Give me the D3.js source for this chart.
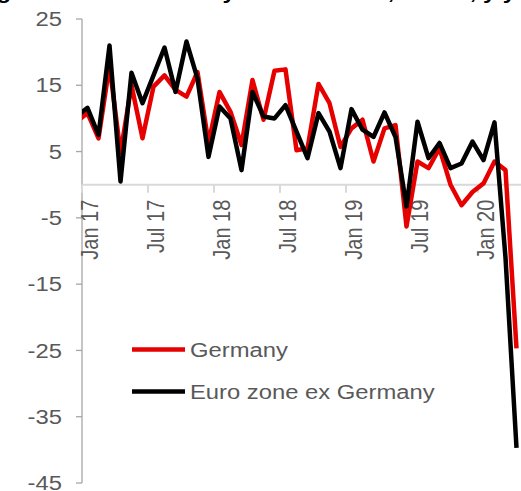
<!DOCTYPE html>
<html lang="en">
<head>
<meta charset="utf-8">
<title>Germany vs euro zone</title>
<script src="https://d3js.org/d3.v7.min.js"></script>
<style>
  body { margin: 0; background: #fff; }
  text { font-family: "Liberation Sans", Arial, sans-serif; }
</style>
</head>
<body>
<div id="chart"></div>
<script>
// months Dec 16 .. Apr 20 (first one sits left of the plot and gets clipped)
var months = ["Dec 16",
  "Jan 17","Feb 17","Mar 17","Apr 17","May 17","Jun 17","Jul 17","Aug 17","Sep 17","Oct 17","Nov 17","Dec 17",
  "Jan 18","Feb 18","Mar 18","Apr 18","May 18","Jun 18","Jul 18","Aug 18","Sep 18","Oct 18","Nov 18","Dec 18",
  "Jan 19","Feb 19","Mar 19","Apr 19","May 19","Jun 19","Jul 19","Aug 19","Sep 19","Oct 19","Nov 19","Dec 19",
  "Jan 20","Feb 20","Mar 20","Apr 20"]
var germany = [9.5,
  10.8, 7.0, 18.0, 4.8, 15.0, 7.0, 14.8, 16.5, 14.3, 13.3, 17.0, 6.3,
  14.0, 11.0, 6.0, 15.8, 9.8, 17.2, 17.4, 5.2, 5.5, 15.2, 12.3, 5.7,
  8.5, 9.8, 3.5, 8.5, 9.0, -6.3, 3.5, 2.5, 5.5, 0.0, -3.1, -1.1,
  0.2, 3.5, 2.2, -24.7]
var exGermany = [10.3,
  11.6, 7.5, 21.0, 0.5, 16.9, 12.3, 16.5, 20.7, 14.0, 21.6, 16.0, 4.2,
  11.8, 10.0, 2.2, 14.0, 10.3, 10.0, 12.0, 8.0, 4.0, 10.8, 8.0, 2.5,
  11.4, 8.3, 7.2, 10.9, 7.2, -3.3, 9.5, 4.0, 6.3, 2.5, 3.2, 6.5,
  3.7, 9.4, -11.0, -39.7]
var seriesNames = ["Germany", "Euro zone ex Germany"]
var seriesColors = ["#e60000", "#000000"]
var yTicks = [25, 15, 5, -5, -15, -25, -35, -45]
var xLabels = ["Jan 17", "Jul 17", "Jan 18", "Jul 18", "Jan 19", "Jul 19", "Jan 20"]

var width = 521, height = 491
var stretch = 1.19   // text in the picture is wider than tall
var svg = d3.select("#chart").append("svg")
  .attr("width", width).attr("height", height)

var plotLeft = 82, plotRight = 522, plotTop = 19, plotBottom = 483
// index 0 = Jan 17; each category is one month wide
var x = d3.scaleLinear().domain([-0.5, 39.5]).range([plotLeft, plotRight])
var y = d3.scaleLinear().domain([-45, 25]).range([plotBottom, plotTop])

// title, mostly cut off at the top of the picture
svg.append("text")
  .attr("transform", "translate(516,-1) scale(" + stretch + ",1)")
  .attr("text-anchor", "end")
  .style("font-weight", "bold").style("font-size", "20px")
  .text("Car registrations: Germany vs euro zone, 3mma, y/y")

// y axis
svg.append("line")
  .attr("x1", plotLeft).attr("x2", plotLeft)
  .attr("y1", y(25)).attr("y2", y(-45))
  .attr("stroke", "#a6a6a6").attr("stroke-width", 1.3)
svg.selectAll(".ytick").data(yTicks).enter().append("line")
  .attr("x1", plotLeft - 6).attr("x2", plotLeft)
  .attr("y1", function(d) { return y(d) }).attr("y2", function(d) { return y(d) })
  .attr("stroke", "#a6a6a6").attr("stroke-width", 1.3)
svg.selectAll(".ylab").data(yTicks).enter().append("text")
  .attr("transform", function(d) { return "translate(62," + y(d) + ") scale(" + stretch + ",1)" })
  .attr("text-anchor", "end").attr("dy", "0.36em")
  .style("font-size", "20px").attr("fill", "#595959")
  .text(function(d) { return d })

// x axis at zero
var y0 = y(0)
svg.append("line")
  .attr("x1", plotLeft).attr("x2", plotRight)
  .attr("y1", y0).attr("y2", y0)
  .attr("stroke", "#d9d9d9").attr("stroke-width", 2)
svg.selectAll(".xtick").data(xLabels).enter().append("line")
  .attr("x1", function(d, i) { return x(i * 6 - 0.5) })
  .attr("x2", function(d, i) { return x(i * 6 - 0.5) })
  .attr("y1", y0).attr("y2", y0 + 8)
  .attr("stroke", "#d9d9d9").attr("stroke-width", 2)
svg.selectAll(".xlab").data(xLabels).enter().append("text")
  .attr("transform", function(d, i) {
    return "translate(" + (x(i * 6) + 1.5) + "," + (y0 + 15) + ") rotate(-90) scale(1," + stretch + ")"
  })
  .attr("text-anchor", "end").attr("dy", "0.36em")
  .style("font-size", "20px").attr("fill", "#595959")
  .text(function(d) { return d })

// lines
svg.append("clipPath").attr("id", "plotclip").append("rect")
  .attr("x", plotLeft).attr("y", 0).attr("width", plotRight - plotLeft).attr("height", height)

var line = d3.line()
  .x(function(d, i) { return x(i - 1) })
  .y(function(d) { return y(d) })

var g = svg.append("g").attr("clip-path", "url(#plotclip)")
;[germany, exGermany].forEach(function(s, k) {
  g.append("path").datum(s)
    .attr("d", line)
    .attr("fill", "none")
    .attr("stroke", seriesColors[k])
    .attr("stroke-width", 4.5)
    .attr("stroke-linejoin", "round")
})

// legend
var legY = [349.5, 391.5]
seriesNames.forEach(function(n, k) {
  svg.append("line")
    .attr("x1", 132).attr("x2", 185)
    .attr("y1", legY[k]).attr("y2", legY[k])
    .attr("stroke", seriesColors[k]).attr("stroke-width", 4.5)
  svg.append("text")
    .attr("transform", "translate(190," + legY[k] + ") scale(" + stretch + ",1)")
    .attr("dy", "0.36em")
    .style("font-size", "20px").attr("fill", "#595959")
    .text(n)
})
</script>
</body>
</html>
